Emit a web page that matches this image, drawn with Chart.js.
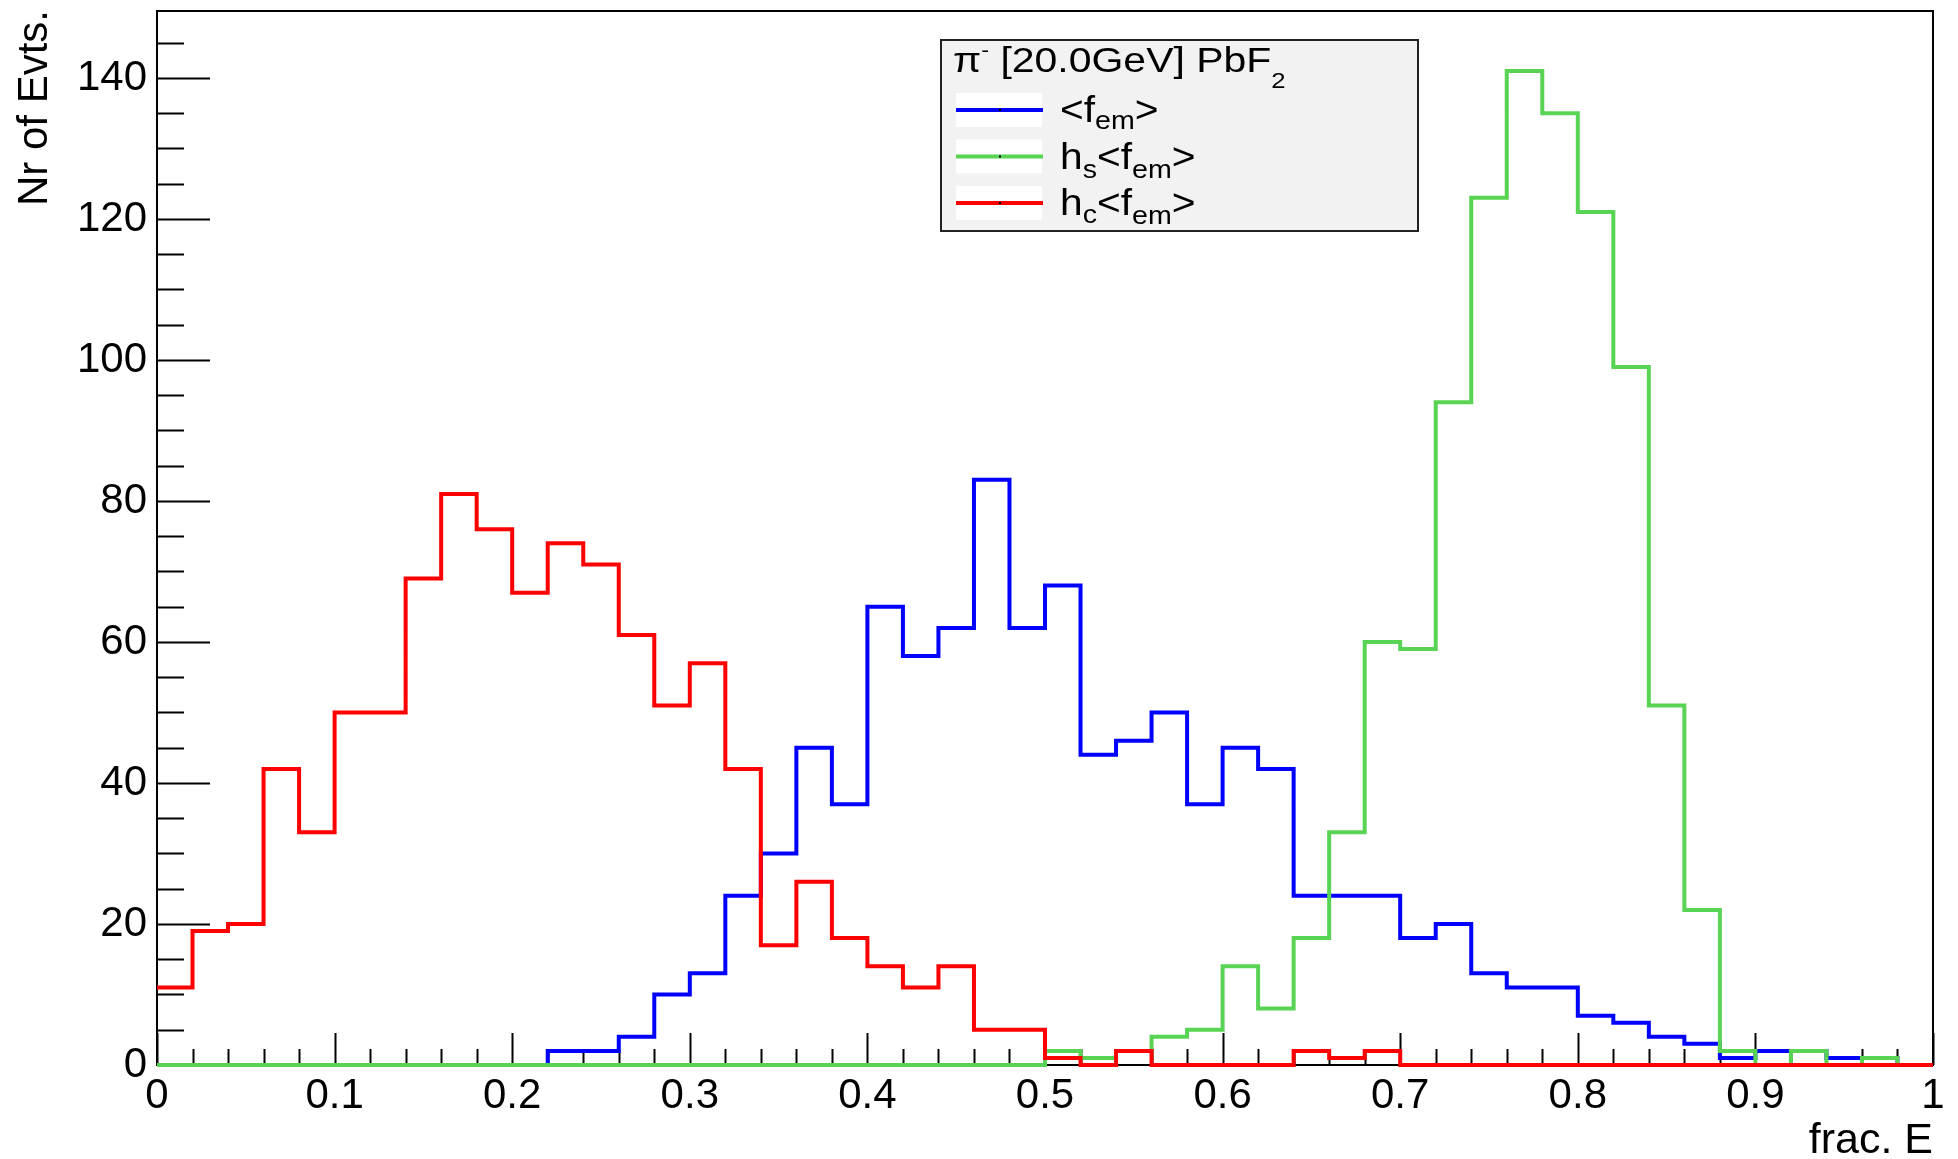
<!DOCTYPE html>
<html>
<head>
<meta charset="utf-8">
<title>frac. E</title>
<script src="https://cdn.jsdelivr.net/npm/chart.js@4.4.1/dist/chart.umd.min.js"></script>
<style>
  html, body { margin: 0; padding: 0; background: #fff; }
  #wrap { width: 1958px; height: 1159px; }
</style>
</head>
<body>
<div id="wrap"><canvas id="histChart" width="1958" height="1159"></canvas></div>
<script>
// 50 bins of 0.02 on [0, 1]
const xMin = 0;
const binWidth = 0.02;

// counts per bin
const fEm = [0, 0, 0, 0, 0, 0, 0, 0, 0, 0, 0, 2, 2, 4, 10, 13, 24, 30, 45, 37,
             65, 58, 62, 83, 62, 68, 44, 46, 50, 37, 45, 42, 24, 24, 24, 18, 20, 13, 11, 11,
             7, 6, 4, 3, 1, 2, 2, 1, 1, 0];
const hsFem = [0, 0, 0, 0, 0, 0, 0, 0, 0, 0, 0, 0, 0, 0, 0, 0, 0, 0, 0, 0,
               0, 0, 0, 0, 0, 2, 1, 2, 4, 5, 14, 8, 18, 33, 60, 59, 94, 123, 141, 135,
               121, 99, 51, 22, 2, 0, 2, 0, 1, 0];
const hcFem = [11, 19, 20, 42, 33, 50, 50, 69, 81, 76, 67, 74, 71, 61, 51, 57, 42, 17, 26, 18,
               14, 11, 14, 5, 5, 1, 0, 2, 0, 0, 0, 0, 2, 1, 2, 0, 0, 0, 0, 0,
               0, 0, 0, 0, 0, 0, 0, 0, 0, 0];

const xTickLabels = [0, 0.1, 0.2, 0.3, 0.4, 0.5, 0.6, 0.7, 0.8, 0.9, 1];
const yTickLabels = [0, 20, 40, 60, 80, 100, 120, 140];
const yMax = 149.5;

const FONT = "'Liberation Sans', Arial, Helvetica, sans-serif";
const BLUE = '#0000ff';
const GREEN = '#59d354';
const RED = '#ff0000';

// histogram outline: one point per bin low edge, plus the upper edge of the last bin
const toSteps = (counts) => {
    const pts = counts.map((c, i) => ({ x: xMin + i * binWidth, y: c }));
    pts.push({ x: xMin + counts.length * binWidth, y: counts[counts.length - 1] });
    return pts;
};

// draw a run of text pieces (normal / sub / superscript) one after another
const drawRuns = (ctx, x, y, runs, sx) => {
    ctx.save();
    ctx.translate(x, y);
    ctx.scale(sx, 1);
    let cx = 0;
    runs.forEach(([txt, size, dy]) => {
        ctx.font = `${size}px ${FONT}`;
        ctx.fillText(txt, cx, dy);
        cx += ctx.measureText(txt).width;
    });
    ctx.restore();
};

// frame and inward ticks, ROOT style
const framePlugin = {
    id: 'rootFrame',
    beforeDatasetsDraw(chart) {
        const { ctx, chartArea: a, scales } = chart;
        ctx.save();
        ctx.strokeStyle = '#000';
        ctx.lineWidth = 2;
        ctx.beginPath();
        for (let k = 0; k * 5 <= yMax; k++) {
            const v = k * 5;
            const py = Math.round(scales.y.getPixelForValue(v)) + 0.5;
            const len = v % 20 === 0 ? 53 : 27;
            ctx.moveTo(a.left, py);
            ctx.lineTo(a.left + len, py);
        }
        for (let k = 0; k <= 50; k++) {
            const px = Math.round(scales.x.getPixelForValue(k * binWidth)) + 0.5;
            const len = k % 5 === 0 ? 32 : 16;
            ctx.moveTo(px, a.bottom);
            ctx.lineTo(px, a.bottom - len);
        }
        ctx.stroke();
        ctx.strokeRect(a.left, a.top, a.right - a.left, a.bottom - a.top);
        ctx.restore();
    },
    afterDraw(chart) {
        const { ctx, chartArea: a } = chart;
        ctx.save();
        ctx.fillStyle = '#000';
        // axis titles
        ctx.font = `43px ${FONT}`;
        ctx.textAlign = 'right';
        ctx.textBaseline = 'alphabetic';
        ctx.fillText('frac. E', a.right, 1153);
        ctx.translate(47, 10);
        ctx.rotate(-Math.PI / 2);
        ctx.font = `42px ${FONT}`;
        ctx.fillText('Nr of Evts.', 0, 0);
        ctx.restore();
    }
};

// legend box with header and sub/superscripts
const legendPlugin = {
    id: 'rootLegend',
    afterDraw(chart) {
        const ctx = chart.ctx;
        const bx = 941, by = 40, bw = 477, bh = 191;
        ctx.save();
        ctx.fillStyle = '#f2f2f2';
        ctx.fillRect(bx, by, bw, bh);
        ctx.strokeStyle = '#222';
        ctx.lineWidth = 2;
        ctx.strokeRect(bx, by, bw, bh);

        ctx.fillStyle = '#000';
        ctx.textAlign = 'left';
        ctx.textBaseline = 'alphabetic';
        drawRuns(ctx, bx + 12, by + 32,
            [['π', 35, 0], ['-', 20, -15], [' [20.0GeV] PbF', 35, 0], ['2', 22, 16]], 1.17);

        const rows = [
            { color: BLUE, runs: [['<', 37, 0], ['f', 37, 0], ['em', 26, 7], ['>', 37, 0]] },
            { color: GREEN, runs: [['h', 37, 0], ['s', 26, 9], ['<', 37, 0], ['f', 37, 0], ['em', 26, 9], ['>', 37, 0]] },
            { color: RED, runs: [['h', 37, 0], ['c', 26, 8], ['<', 37, 0], ['f', 37, 0], ['em', 26, 9], ['>', 37, 0]] }
        ];
        rows.forEach((r, i) => {
            const ly = by + 70 + i * 46.5;
            ctx.fillStyle = '#fff';
            ctx.fillRect(bx + 15, ly - 17, 86, 34);
            ctx.strokeStyle = r.color;
            ctx.lineWidth = 4;
            ctx.beginPath();
            ctx.moveTo(bx + 15, ly);
            ctx.lineTo(bx + 102, ly);
            ctx.stroke();
            ctx.fillStyle = '#000';
            ctx.fillRect(bx + 58, ly - 1, 2, 2);
            drawRuns(ctx, bx + 119, ly + 12, r.runs, 1.1);
        });
        ctx.restore();
    }
};

const histDataset = (label, counts, color, order) => ({
    label: label,
    data: toSteps(counts),
    borderColor: color,
    backgroundColor: color,
    borderWidth: 4,
    stepped: 'before',
    pointRadius: 0,
    pointHoverRadius: 0,
    fill: false,
    borderJoinStyle: 'miter',
    borderCapStyle: 'butt',
    order: order,
    clip: 6
});

const ctx = document.getElementById('histChart').getContext('2d');
const histChart = new Chart(ctx, {
    type: 'line',
    data: {
        datasets: [
            histDataset('<fem>', fEm, BLUE, 3),
            histDataset('hs<fem>', hsFem, GREEN, 2),
            histDataset('hc<fem>', hcFem, RED, 1)
        ]
    },
    options: {
        responsive: false,
        animation: false,
        devicePixelRatio: 1,
        layout: { padding: { top: 11, right: 25, left: 0, bottom: 0 } },
        plugins: {
            legend: { display: false },
            tooltip: { enabled: false }
        },
        scales: {
            x: {
                type: 'linear',
                min: 0,
                max: 1,
                grid: { display: false, drawTicks: false },
                border: { display: false },
                ticks: {
                    padding: 6,
                    color: '#000',
                    font: { family: FONT, size: 42 },
                    maxRotation: 0,
                    autoSkip: false,
                    callback: (v) => String(+(+v).toFixed(2))
                },
                afterBuildTicks: (s) => { s.ticks = xTickLabels.map(v => ({ value: v })); },
                afterFit: (s) => { s.height = 94; s.paddingLeft = 0; s.paddingRight = 0; }
            },
            y: {
                type: 'linear',
                min: 0,
                max: yMax,
                grid: { display: false, drawTicks: false },
                border: { display: false },
                ticks: {
                    padding: 10,
                    color: '#000',
                    font: { family: FONT, size: 42 },
                    autoSkip: false,
                    callback: (v) => String(v)
                },
                afterBuildTicks: (s) => { s.ticks = yTickLabels.map(v => ({ value: v })); },
                afterFit: (s) => { s.width = 157; s.paddingTop = 0; s.paddingBottom = 0; }
            }
        }
    },
    plugins: [framePlugin, legendPlugin]
});
</script>
</body>
</html>
